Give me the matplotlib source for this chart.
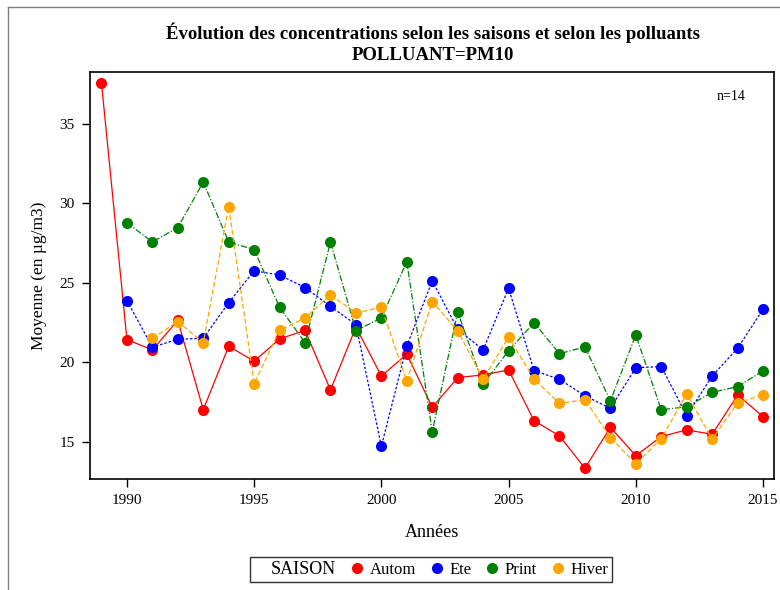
import numpy as np
import matplotlib
matplotlib.use("Agg")
import matplotlib.pyplot as plt
from matplotlib.lines import Line2D

plt.rcParams['font.family'] = ['Liberation Serif', 'DejaVu Serif']

# annual means per season
years_autom = list(range(1989, 2016))
autom = [37.56, 21.42, 20.77, 22.63, 17.01, 21.0, 20.06, 21.46, 22.0, 18.25, 22.2,
         19.13, 20.5, 17.16, 19.03, 19.2, 19.51, 16.32, 15.36, 13.33, 15.9, 14.12,
         15.32, 15.74, 15.46, 17.94, 16.57]

years_ete = list(range(1990, 2016))
ete = [23.87, 20.94, 21.44, 21.5, 23.74, 25.75, 25.48, 24.69, 23.51, 22.36, 14.71,
       21.02, 25.11, 22.07, 20.77, 24.65, 19.47, 18.92, 17.88, 17.1, 19.65, 19.72,
       16.64, 19.13, 20.87, 23.33]

years_print = list(range(1990, 2016))
printemps = [28.77, 27.56, 28.46, 31.33, 27.56, 27.08, 23.45, 21.23, 27.56, 21.98,
             22.78, 26.32, 15.61, 23.16, 18.63, 20.72, 22.48, 20.53, 20.96, 17.56,
             21.71, 17.0, 17.2, 18.1, 18.46, 19.45]

years_hiver = list(range(1991, 2016))
hiver = [21.5, 22.55, 21.23, 29.78, 18.65, 22.0, 22.78, 24.23, 23.1, 23.45, 18.8,
         23.81, 21.98, 18.94, 21.57, 18.94, 17.41, 17.64, 15.25, 13.6, 15.19, 18.0,
         15.15, 17.45, 17.94]

series = [
    ("Autom", years_autom, autom, "red", "-"),
    ("Ete", years_ete, ete, "blue", (0, (2, 1.5))),
    ("Print", years_print, printemps, "green", (0, (5, 1.5, 1, 1.5))),
    ("Hiver", years_hiver, hiver, "orange", (0, (4, 2))),
]

fig = plt.figure(figsize=(7.8, 5.9), dpi=100)
ax = fig.add_axes([0.1154, 0.1881, 0.8769, 0.6899])

for name, xs, ys, col, ls in series:
    ax.plot(xs, ys, color=col, linestyle=ls, linewidth=0.9,
            marker="o", markersize=8, markeredgewidth=0, label=name)

ax.set_xlim(1988.55, 2015.43)
ax.set_ylim(12.65, 38.25)
ax.set_xticks([1990, 1995, 2000, 2005, 2010, 2015])
ax.set_yticks([15, 20, 25, 30, 35])
ax.tick_params(direction="out", length=6, width=1, labelsize=11, pad=5)
for sp in ax.spines.values():
    sp.set_linewidth(1.2)

ax.set_xlabel("Années", fontsize=13, labelpad=12)
ax.set_ylabel("Moyenne (en µg/m3)", fontsize=12.5, labelpad=9)
ax.text(0.937, 0.94, "n=14", transform=ax.transAxes, fontsize=10,
        ha="center", va="center")

fig.text(0.555, 0.945, "Évolution des concentrations selon les saisons et selon les polluants",
         ha="center", va="center", fontsize=13.5, fontweight="bold")
fig.text(0.555, 0.906, "POLLUANT=PM10", ha="center", va="center",
         fontsize=13.5, fontweight="bold")

# legend with the group title inside the box
handles = [Line2D([], [], linestyle="none", marker="none")]
labels = ["SAISON"]
for name, xs, ys, col, ls in series:
    handles.append(Line2D([], [], linestyle="none", marker="o", color=col,
                          markersize=8, markeredgewidth=0))
    labels.append(name)
leg = fig.legend(handles, labels, ncol=5, loc="center", bbox_to_anchor=(0.553, 0.035),
                 frameon=True, fancybox=False, edgecolor="black", fontsize=12,
                 handlelength=0.5, handletextpad=0.5, columnspacing=1.0,
                 borderpad=0.25, borderaxespad=0)
leg.get_frame().set_linewidth(1.0)
leg.get_texts()[0].set_fontsize(13)

# outer frame lines (left and top)
fig.add_artist(Line2D([0.0103, 0.0103], [0, 0.988], color="gray", linewidth=1,
                      transform=fig.transFigure))
fig.add_artist(Line2D([0.0103, 1], [0.988, 0.988], color="gray", linewidth=1,
                      transform=fig.transFigure))

fig.savefig("out.png", dpi=100)
